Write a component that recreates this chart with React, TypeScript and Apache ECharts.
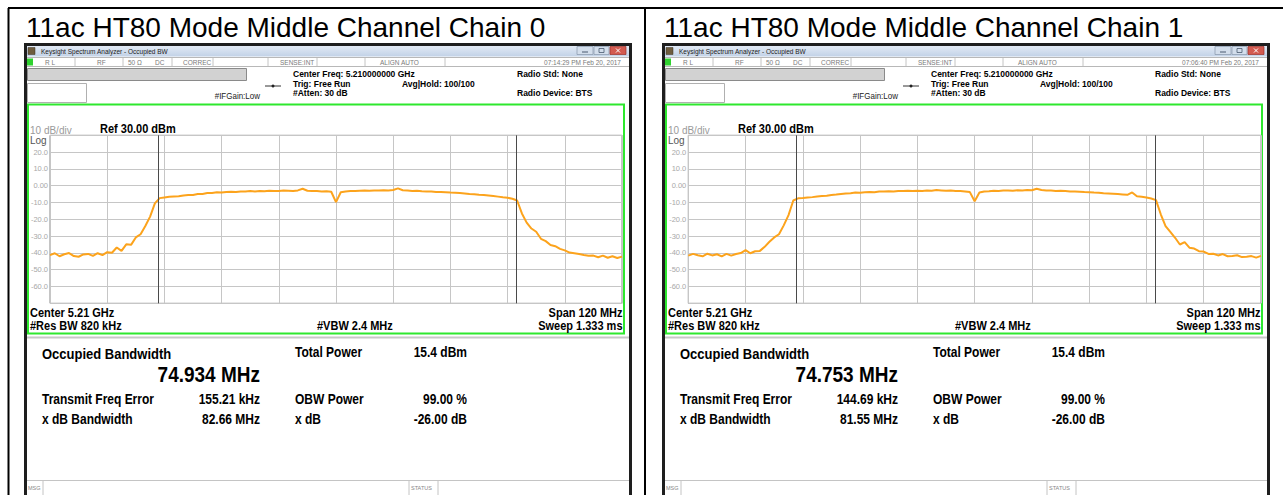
import React, { useEffect, useRef } from "react";
import * as echarts from "echarts";

// ---------- data ----------
const SPAN_START_OFFSET_MHZ = -60; // center 5.21 GHz, span 120 MHz
const STEP_MHZ = 1;

const chain0Trace = [
  -41.3, -40.2, -42.0, -40.8, -40.1, -41.9, -42.3, -40.9, -40.6, -41.8, -40.2, -41.3,
  -39.6, -39.9, -36.8, -38.8, -34.9, -35.2, -30.8, -28.9, -24.0, -18.4, -10.5, -7.4,
  -7.0, -6.6, -6.4, -6.3, -5.8, -5.6, -5.5, -5.0, -4.9, -4.4, -4.3, -3.9,
  -4.1, -3.7, -3.6, -3.8, -3.4, -3.5, -3.2, -3.4, -3.1, -3.3, -3.0, -3.2,
  -3.1, -2.9, -3.0, -3.2, -2.8, -1.8, -3.0, -3.1, -3.2, -3.4, -3.3, -3.6,
  -9.8, -3.9, -3.4, -3.2, -3.1, -3.0, -2.9, -3.0, -2.8, -2.9, -2.7, -2.8,
  -2.6, -1.6, -2.7, -2.9, -3.1, -3.0, -3.3, -3.4, -3.5, -3.7, -3.8, -3.9,
  -4.1, -4.2, -4.4, -4.6, -4.9, -5.1, -5.4, -5.6, -5.9, -6.2, -6.5, -6.9,
  -7.2, -7.8, -8.8, -16.5, -22.0, -25.5, -27.4, -31.6, -33.0, -35.3, -36.0, -37.6,
  -38.5, -39.8, -40.2, -40.6, -41.2, -41.7, -41.6, -42.6, -41.6, -42.9, -42.0, -43.0, -42.2,
];

const chain1Trace = [
  -41.6, -40.6, -41.4, -42.0, -40.5, -41.5, -40.8, -42.1, -40.6, -41.6, -40.7, -40.1,
  -38.4, -40.2, -39.0, -38.8, -36.4, -33.4, -30.8, -28.9, -23.6, -17.5, -8.8, -7.5,
  -7.3, -7.0, -6.8, -6.4, -6.2, -6.0, -5.5, -5.3, -4.9, -4.6, -4.5, -4.1,
  -4.2, -3.9, -3.7, -3.9, -3.5, -3.4, -3.3, -3.5, -3.1, -3.2, -3.0, -3.1,
  -3.0, -3.1, -2.9, -3.0, -2.6, -2.8, -3.0, -2.9, -3.1, -3.2, -3.4, -3.8,
  -9.3, -4.1, -3.5, -3.3, -3.0, -3.1, -2.9, -2.8, -3.0, -2.7, -2.8, -2.6,
  -2.7, -1.8, -2.6, -2.8, -2.9, -3.1, -3.0, -3.2, -3.4, -3.5, -3.6, -3.8,
  -3.9, -4.1, -4.2, -4.5, -4.6, -4.8, -5.0, -5.2, -5.4, -4.0, -6.3, -6.6,
  -7.0, -7.6, -8.6, -17.0, -24.0, -27.5, -31.0, -35.0, -33.6, -36.9, -37.4, -39.0,
  -39.2, -40.6, -40.5, -41.5, -40.7, -42.0, -41.8, -41.4, -42.5, -42.3, -41.9, -42.8, -41.8,
];

const chain0Markers = [-37.3, 37.9];
const chain1Markers = [-37.4, 37.8];

const panelTitles = ["11ac HT80 Mode Middle Channel Chain 0", "11ac HT80 Mode Middle Channel Chain 1"];
const timestamps = ["07:14:29 PM Feb 20, 2017", "07:06:40 PM Feb 20, 2017"];
const obwValues = ["74.934 MHz", "74.753 MHz"];
const freqErrors = ["155.21 kHz", "144.69 kHz"];
const xdbBandwidths = ["82.66 MHz", "81.55 MHz"];
const totalPowers = ["15.4 dBm", "15.4 dBm"];
const obwPowers = ["99.00 %", "99.00 %"];
const xdbValues = ["-26.00 dB", "-26.00 dB"];

const statusItems = ["R L", "RF", "50 Ω", "DC", "CORREC", "SENSE:INT", "ALIGN AUTO"];

// ---------- layout helpers ----------
const FONT = '"Liberation Sans", Arial, Helvetica, sans-serif';
const PANEL_DX = [0, 638];
const STRETCH = 1.15;

function txt(x: number, y: number, text: string, size: number, opts: any = {}) {
  const align = opts.align || "left";
  return {
    type: "text",
    x,
    y,
    scaleY: opts.sy || 1,
    silent: true,
    z: 10,
    style: {
      text,
      fontSize: size,
      fontFamily: FONT,
      fontWeight: opts.bold ? "bold" : "normal",
      fill: opts.color || "#000",
      align,
      textAlign: align,
      verticalAlign: "middle",
      textVerticalAlign: "middle",
    },
  };
}
function rect(x: number, y: number, w: number, h: number, style: any) {
  return { type: "rect", silent: true, shape: { x, y, width: w, height: h }, style };
}
function line(x1: number, y1: number, x2: number, y2: number, stroke: string, lineWidth = 1) {
  return { type: "line", silent: true, shape: { x1, y1, x2, y2 }, style: { stroke, lineWidth } };
}

function panelGraphics(i: number) {
  const d = PANEL_DX[i];
  const S = STRETCH;
  const els: any[] = [];
  // title of table cell
  els.push(txt(26 + d, 27, panelTitles[i], 28));
  // window frame
  els.push(rect(25.5 + d, 44.5, 605, 470, { fill: "none", stroke: "#1e1e1e", lineWidth: 3 }));
  // title bar
  els.push(
    rect(27 + d, 46, 602, 10.5, {
      fill: new echarts.graphic.LinearGradient(0, 0, 0, 1, [
        { offset: 0, color: "#e2eaf5" },
        { offset: 1, color: "#c2d2e7" },
      ]),
    })
  );
  els.push(rect(28 + d, 47.5, 7, 7, { fill: "#6e5c3e", stroke: "#3a3020", lineWidth: 0.5 }));
  els.push(txt(41 + d, 51.5, "Keysight Spectrum Analyzer - Occupied BW", 6.5, { color: "#222", sy: S }));
  // window buttons
  els.push(rect(577 + d, 46.5, 16, 8, { fill: "#d3deec", stroke: "#8797ab", lineWidth: 0.7 }));
  els.push(line(582 + d, 52, 588 + d, 52, "#4a5a70", 1));
  els.push(rect(594 + d, 46.5, 15, 8, { fill: "#d3deec", stroke: "#8797ab", lineWidth: 0.7 }));
  els.push(rect(599 + d, 48.5, 5, 4, { fill: "none", stroke: "#4a5a70", lineWidth: 0.8 }));
  els.push(rect(610 + d, 46.5, 16, 8, { fill: "#d35a4f", stroke: "#9c2f28", lineWidth: 0.7 }));
  els.push(line(616 + d, 48.5, 620 + d, 52.5, "#fff", 1));
  els.push(line(620 + d, 48.5, 616 + d, 52.5, "#fff", 1));
  // status row
  els.push(line(27 + d, 57.5, 629 + d, 57.5, "#b8b8b8", 1));
  els.push(line(27 + d, 66.5, 629 + d, 66.5, "#b8b8b8", 1));
  els.push(rect(27 + d, 58.5, 6, 7, { fill: "#2fd12f" }));
  const statusX = [45, 97, 128, 155, 183, 280, 380];
  statusItems.forEach((s, k) => els.push(txt(statusX[k] + d, 62.3, s, 6.5, { color: "#7a7a7a", sy: S })));
  [75, 123, 172, 213, 268, 317, 365, 445].forEach((x) => els.push(line(x + d, 58, x + d, 66, "#c4c4c4", 1)));
  els.push(txt(621 + d, 62.3, timestamps[i], 6.5, { color: "#7a7a7a", align: "right", sy: S }));
  // control boxes
  els.push(rect(27.5 + d, 68.5, 219, 12, { fill: "#d2d2d2", stroke: "#8a8a8a", lineWidth: 1 }));
  els.push(rect(27.5 + d, 83.5, 59, 19, { fill: "#fff", stroke: "#b0b0b0", lineWidth: 1 }));
  els.push(line(265 + d, 86, 281 + d, 86, "#333", 1));
  els.push({ type: "circle", silent: true, shape: { cx: 273 + d, cy: 86, r: 1.5 }, style: { fill: "#222" } });
  els.push(txt(260 + d, 95.5, "#IFGain:Low", 8, { color: "#222", align: "right", sy: S }));
  els.push(txt(293 + d, 74, "Center Freq: 5.210000000 GHz", 8.5, { bold: true, sy: S }));
  els.push(txt(293 + d, 83.5, "Trig: Free Run", 8.5, { bold: true, sy: S }));
  els.push(txt(293 + d, 93, "#Atten: 30 dB", 8.5, { bold: true, sy: S }));
  els.push(txt(402 + d, 83.5, "Avg|Hold: 100/100", 8.5, { bold: true, sy: S }));
  els.push(txt(517 + d, 73.5, "Radio Std: None", 8.5, { bold: true, sy: S }));
  els.push(txt(517 + d, 93, "Radio Device: BTS", 8.5, { bold: true, sy: S }));
  // green measurement frame
  els.push(rect(28 + d, 104.5, 596, 229, { fill: "none", stroke: "#2ee82e", lineWidth: 2 }));
  els.push(txt(30 + d, 129.5, "10 dB/div", 10, { color: "#9a9a9a", sy: S }));
  els.push(txt(100 + d, 129, "Ref 30.00 dBm", 11, { bold: true, sy: S }));
  els.push(txt(30 + d, 139.5, "Log", 10, { color: "#555", sy: S }));
  els.push(txt(30 + d, 312.5, "Center 5.21 GHz", 11, { bold: true, sy: S }));
  els.push(txt(30 + d, 325.5, "#Res BW 820 kHz", 11, { bold: true, sy: S }));
  els.push(txt(317 + d, 326, "#VBW 2.4 MHz", 11, { bold: true, sy: S }));
  els.push(txt(622.5 + d, 312.5, "Span 120 MHz", 11, { bold: true, align: "right", sy: S }));
  els.push(txt(622.5 + d, 326, "Sweep 1.333 ms", 11, { bold: true, align: "right", sy: S }));
  // result panel
  els.push(line(27 + d, 337.5, 629 + d, 337.5, "#c8c8c8", 2));
  els.push(txt(42 + d, 353.3, "Occupied Bandwidth", 13, { bold: true, sy: S }));
  els.push(txt(260 + d, 374, obwValues[i], 19, { bold: true, align: "right", sy: S }));
  els.push(txt(42 + d, 399, "Transmit Freq Error", 12, { bold: true, sy: S }));
  els.push(txt(260 + d, 399, freqErrors[i], 12, { bold: true, align: "right", sy: S }));
  els.push(txt(42 + d, 419, "x dB Bandwidth", 12, { bold: true, sy: S }));
  els.push(txt(260 + d, 419, xdbBandwidths[i], 12, { bold: true, align: "right", sy: S }));
  els.push(txt(295 + d, 352, "Total Power", 12, { bold: true, sy: S }));
  els.push(txt(467 + d, 352, totalPowers[i], 12, { bold: true, align: "right", sy: S }));
  els.push(txt(295 + d, 399, "OBW Power", 12, { bold: true, sy: S }));
  els.push(txt(467 + d, 399, obwPowers[i], 12, { bold: true, align: "right", sy: S }));
  els.push(txt(295 + d, 419, "x dB", 12, { bold: true, sy: S }));
  els.push(txt(467 + d, 419, xdbValues[i], 12, { bold: true, align: "right", sy: S }));
  // message bar
  els.push(line(27 + d, 480.5, 629 + d, 480.5, "#c4c4c4", 1));
  els.push(line(43 + d, 481, 43 + d, 495, "#c4c4c4", 1));
  els.push(txt(28 + d, 488, "MSG", 5.5, { color: "#888" }));
  els.push(line(409 + d, 481, 409 + d, 495, "#c4c4c4", 1));
  els.push(line(438 + d, 481, 438 + d, 495, "#c4c4c4", 1));
  els.push(txt(411 + d, 488, "STATUS", 5.5, { color: "#888" }));
  return els;
}

function traceData(values: number[]) {
  return values.map((v, k) => [SPAN_START_OFFSET_MHZ + k * STEP_MHZ, v]);
}

const GRIDS = [
  { left: 50, top: 135.3, width: 572, height: 168 },
  { left: 688.3, top: 135.3, width: 572.7, height: 168 },
];

export default function App() {
  const ref = useRef<HTMLDivElement>(null);
  useEffect(() => {
    if (!ref.current) return;
    const chart = echarts.init(ref.current, null, { renderer: "svg" });
    const traces = [chain0Trace, chain1Trace];
    const markers = [chain0Markers, chain1Markers];
    const graphics: any[] = [
      line(8, 8, 1283, 8, "#000", 2),
      line(8.5, 8, 8.5, 495, "#000", 2),
      line(645, 8, 645, 495, "#000", 2),
      ...panelGraphics(0),
      ...panelGraphics(1),
    ];
    chart.setOption({
      animation: false,
      backgroundColor: "#fff",
      grid: GRIDS.map((g) => ({ ...g, show: true, borderColor: "#8a8a8a", borderWidth: 1, containLabel: false })),
      xAxis: GRIDS.map((_, i) => ({
        type: "value",
        gridIndex: i,
        min: -60,
        max: 60,
        interval: 12,
        axisLine: { show: false },
        axisTick: { show: false },
        axisLabel: { show: false },
        splitLine: { show: true, lineStyle: { color: "#c6c6c6", width: 1 } },
      })),
      yAxis: GRIDS.map((_, i) => ({
        type: "value",
        gridIndex: i,
        min: -70,
        max: 30,
        interval: 10,
        axisLine: { show: false },
        axisTick: { show: false },
        axisLabel: {
          show: true,
          showMinLabel: false,
          showMaxLabel: false,
          margin: 2,
          fontSize: 7.5,
          fontFamily: FONT,
          color: "#a8a8a8",
          formatter: (v: number) => (v === 30 || v === -70 ? "" : v === 0 ? "0.00" : v.toFixed(1)),
        },
        splitLine: { show: true, lineStyle: { color: "#c6c6c6", width: 1 } },
      })),
      series: traces.map((t, i) => ({
        type: "line",
        xAxisIndex: i,
        yAxisIndex: i,
        data: traceData(t),
        showSymbol: false,
        symbol: "none",
        silent: true,
        lineStyle: { color: "#fca31c", width: 2 },
        markLine: {
          silent: true,
          symbol: "none",
          label: { show: false },
          lineStyle: { color: "#4a4a4a", width: 1, type: "solid" },
          data: markers[i].map((m) => ({ xAxis: m })),
        },
      })),
      graphic: { elements: graphics },
    });
    return () => chart.dispose();
  }, []);
  return <div ref={ref} style={{ position: "absolute", left: 0, top: 0, width: 1283, height: 495 }} />;
}
